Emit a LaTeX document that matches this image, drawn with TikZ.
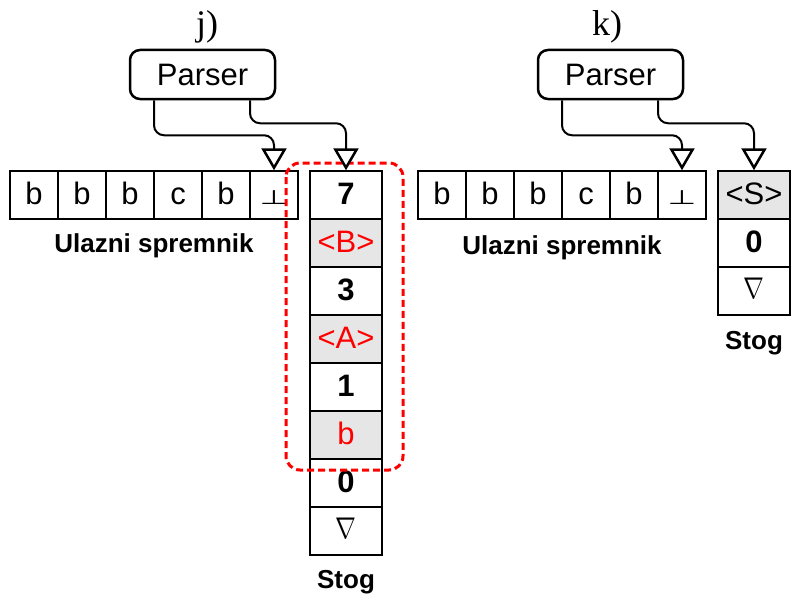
\documentclass[tikz,border=0pt]{standalone}
\usepackage{fontspec}
\setmainfont{Liberation Sans}
\newfontfamily\serifface{Liberation Serif}
\newfontfamily\symface{DejaVu Sans}
\usetikzlibrary{arrows.meta}
\definecolor{hlgray}{HTML}{E6E6E6}
\newcommand{\botsym}{\scalebox{1}[0.6]{\fontsize{33}{33}\symface ⊥}}
\newcommand{\nabsym}{\raisebox{2pt}{\fontsize{10}{10}\selectfont\scalebox{2.5}[3]{$\nabla$}}}
\tikzset{
  cell/.style={draw, line width=1.5pt, minimum width=48pt, minimum height=48pt, inner sep=0pt, text height=23pt, text depth=4pt, font=\fontsize{31}{31}\selectfont},
  scell/.style={cell, minimum width=72pt},
  num/.style={font=\fontsize{31}{31}\selectfont\bfseries},
  hl/.style={fill=hlgray, text=red},
  parser/.style={draw, line width=2.5pt, rounded corners=10pt, minimum width=145pt, minimum height=49pt, inner sep=0pt, font=\fontsize{31}{31}\selectfont},
  conn/.style={line width=2pt, rounded corners=10pt, -{Triangle[fill=white, length=22pt, width=25pt, line width=2.5pt]}},
  lbl/.style={font=\fontsize{26}{26}\selectfont\bfseries},
  ttl/.style={font=\fontsize{36}{36}\serifface, anchor=base},
  group/.style={draw=red, line width=3pt, dash pattern=on 7pt off 4pt, rounded corners=14pt}
}
\begin{document}
\begin{tikzpicture}[x=1pt,y=-1pt]
\useasboundingbox (0,0) rectangle (795,602);
% ---------- j) ----------
\node[ttl] (tj) at (207,36) {j)};
\node[parser] (pj) at (202.5,74.5) {Parser};
\node[cell] (tj1) at (34,195) {b};
\node[cell] (tj2) at (82,195) {b};
\node[cell] (tj3) at (130,195) {b};
\node[cell] (tj4) at (178,195) {c};
\node[cell] (tj5) at (226,195) {b};
\node[cell] (tj6) at (274,195) {\botsym};
\node[lbl] (uj) at (154,246) {Ulazni spremnik};
\node[scell,num] (sj1) at (346,195) {7};
\node[scell,hl] (sj2) at (346,243) {<B>};
\node[scell,num] (sj3) at (346,291) {3};
\node[scell,hl] (sj4) at (346,339) {<A>};
\node[scell,num] (sj5) at (346,387) {1};
\node[scell,hl] (sj6) at (346,435) {b};
\node[scell,num] (sj7) at (346,483) {0};
\node[scell] (sj8) at (346,531) {\nabsym};
\node[lbl] (stj) at (346,582) {Stog};
\draw[group] (286,163) rectangle (403,470);
\draw[conn] ([xshift=-48.5pt]pj.south) -- ++(0,35) -| (tj6.north);
\draw[conn] ([xshift=47.5pt]pj.south) -- ++(0,23) -| (sj1.north);
% ---------- k) ----------
\node[ttl] (tk) at (607,36) {k)};
\node[parser] (pk) at (610.5,74.5) {Parser};
\node[cell] (tk1) at (442,195) {b};
\node[cell] (tk2) at (490,195) {b};
\node[cell] (tk3) at (538,195) {b};
\node[cell] (tk4) at (586,195) {c};
\node[cell] (tk5) at (634,195) {b};
\node[cell] (tk6) at (682,195) {\botsym};
\node[lbl] (uk) at (562,248) {Ulazni spremnik};
\node[scell,hl,text=black] (sk1) at (754,195) {<S>};
\node[scell,num] (sk2) at (754,243) {0};
\node[scell] (sk3) at (754,291) {\nabsym};
\node[lbl] (stk) at (754,343) {Stog};
\draw[conn] ([xshift=-48.5pt]pk.south) -- ++(0,35) -| (tk6.north);
\draw[conn] ([xshift=47.5pt]pk.south) -- ++(0,23) -| (sk1.north);
\end{tikzpicture}
\end{document}
